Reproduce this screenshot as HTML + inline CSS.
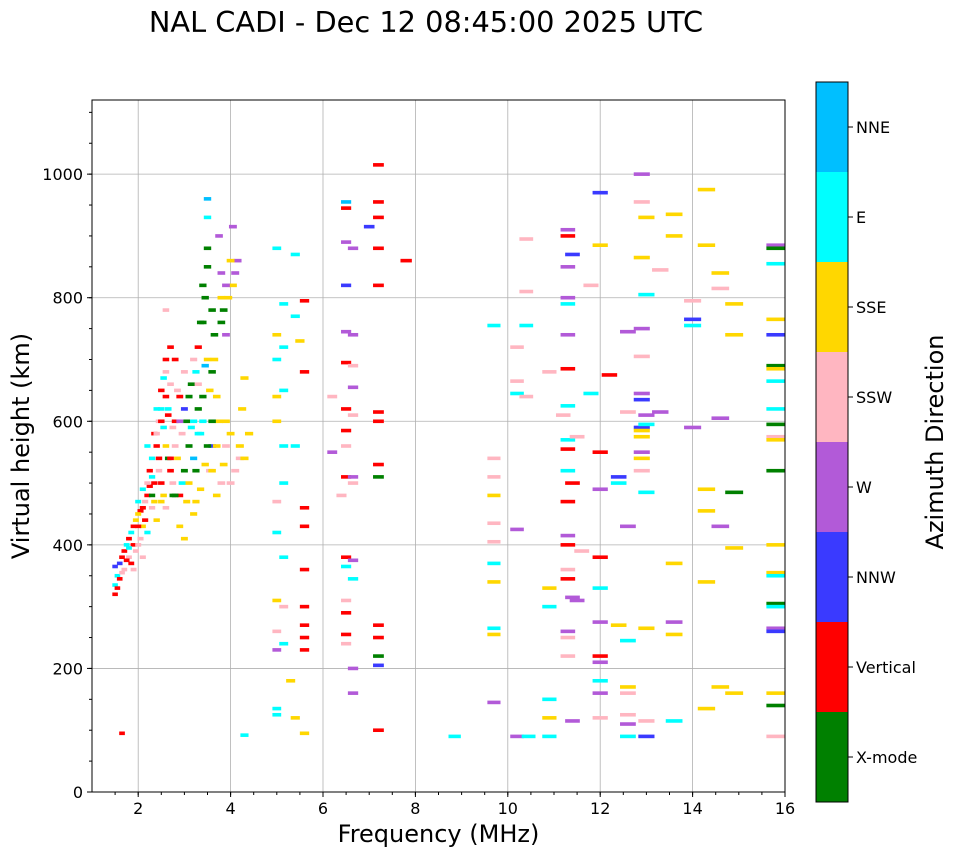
<!DOCTYPE html>
<html><head><meta charset="utf-8"><style>
body{margin:0;background:#fff;font-family:"DejaVu Sans","Liberation Sans",sans-serif}
svg{display:block}
</style></head><body>
<svg id="c" width="958" height="857" xmlns="http://www.w3.org/2000/svg" font-family="DejaVu Sans, Liberation Sans, sans-serif"></svg>
<script>
// [frequency MHz, virtual height km, direction index]
const points=[
[1.5,320,1],[1.5,335,6],[1.55,350,6],[1.5,365,2],[1.6,370,2],[1.6,345,1],[1.65,380,1],[1.7,390,1],[1.7,360,4],[1.75,400,6],[1.8,380,4],[1.8,410,1],[1.85,420,6],[1.85,370,1],[1.9,400,1],[1.9,360,4],[1.95,440,5],[1.95,390,4],
[1.55,330,1],[1.65,355,4],[1.75,375,1],[1.8,395,6],[1.9,430,1],[2.0,400,4],[2.05,455,1],[2.1,430,5],[2.15,470,4],[2.25,495,1],[2.3,510,6],[2.35,470,5],[2.45,540,1],[2.55,590,6],[2.6,640,1],[2.7,660,4],[2.8,700,1],[2.85,540,5],[2.95,580,4],[3.05,600,0],[3.15,660,0],[3.25,680,6],[3.35,760,0],[3.45,800,0],[3.55,650,5],[3.65,700,5],[3.75,600,5],[3.85,780,0],[3.95,800,5],[4.05,820,5],[4.15,860,3],[4.2,540,4],[3.45,530,5],[3.25,470,5],[2.9,480,1],[2.75,500,4],[2.55,480,5],[2.45,600,4],[2.65,620,6],[3.35,580,6],[3.6,560,2],[3.9,600,5],
[2.0,430,1],[2.0,450,5],[2.0,470,6],[2.05,410,4],[2.1,460,1],[2.1,490,6],[2.1,380,4],[2.15,440,1],[2.2,480,1],[2.2,500,4],[2.2,420,6],[2.2,560,6],[2.25,520,1],[2.3,540,6],[2.3,480,0],[2.3,460,4],[2.35,580,1],[2.35,500,1],
[2.4,560,1],[2.4,580,4],[2.4,440,5],[2.4,620,6],[2.45,520,4],[2.5,600,1],[2.5,620,6],[2.5,650,1],[2.5,500,1],[2.5,470,5],[2.55,670,6],[2.6,680,4],[2.6,700,1],[2.6,560,5],[2.6,460,4],[2.6,780,4],[2.65,610,1],[2.65,540,0],
[2.7,520,1],[2.7,540,1],[2.7,720,1],[2.75,480,0],[2.75,590,4],[2.8,480,0],[2.8,560,4],[2.8,600,1],[2.85,650,4],[2.9,600,3],[2.9,640,1],[2.9,430,5],[2.95,500,6],[3.0,680,4],[3.0,520,0],[3.0,410,5],[3.0,620,2],[3.05,470,5],
[3.1,560,0],[3.1,500,5],[3.1,640,0],[3.15,590,6],[3.2,540,7],[3.2,600,6],[3.2,700,4],[3.2,450,5],[3.25,520,0],[3.3,620,0],[3.3,660,4],[3.3,720,1],[3.3,580,6],[3.35,490,5],[3.4,760,0],[3.4,820,0],[3.4,640,0],[3.4,600,6],[3.45,690,7],
[3.5,850,0],[3.5,700,5],[3.5,560,0],[3.5,960,7],[3.5,930,6],[3.5,880,0],[3.55,520,4],[3.6,520,5],[3.6,600,0],[3.6,680,0],[3.6,780,0],[3.65,740,0],[3.7,640,5],[3.7,480,5],[3.7,560,5],[3.75,900,3],
[3.8,800,5],[3.8,500,4],[3.8,760,0],[3.8,840,3],[3.85,530,5],[3.9,560,4],[3.9,820,3],[3.9,740,3],[4.0,860,5],[4.0,580,5],[4.0,500,4],[4.05,915,3],[4.1,840,3],[4.1,520,4],[4.2,560,5],[4.25,620,5],[4.3,540,5],[4.4,580,5],[4.3,670,5],
[1.65,95,1],[4.3,92,6],
[5.0,880,6],[5.0,740,5],[5.0,700,6],[5.0,640,5],[5.0,600,5],[5.0,470,4],[5.0,420,6],[5.0,310,5],[5.0,260,4],[5.0,230,3],[5.0,135,6],[5.0,125,6],[5.15,790,6],[5.15,720,6],[5.15,650,6],[5.15,560,6],[5.15,500,6],[5.15,380,6],[5.15,300,4],[5.15,240,6],[5.4,870,6],[5.4,770,6],[5.4,560,6],[5.4,120,5],[5.5,730,5],[5.6,795,1],[5.6,680,1],[5.6,460,1],[5.6,430,1],[5.6,360,1],[5.6,300,1],[5.6,270,1],[5.6,250,1],[5.6,230,1],[5.6,95,5],[5.3,180,5],
[6.2,640,4],[6.2,550,3],[6.5,955,7],[6.5,945,1],[6.5,890,3],[6.5,820,2],[6.5,745,3],[6.5,695,1],[6.5,620,1],[6.5,585,1],[6.5,560,4],[6.5,510,1],[6.5,380,1],[6.5,365,6],[6.5,310,4],[6.5,290,1],[6.5,255,1],[6.5,240,4],[6.65,880,3],[6.65,740,3],[6.65,690,4],[6.65,655,3],[6.65,610,4],[6.65,510,3],[6.65,500,4],[6.65,375,3],[6.65,345,6],[6.65,200,3],[6.65,160,3],[6.4,480,4],[7.0,915,2],[7.2,1015,1],[7.2,955,1],[7.2,930,1],[7.2,880,1],[7.2,820,1],[7.2,615,1],[7.2,600,1],[7.2,530,1],[7.2,510,0],[7.2,270,1],[7.2,250,1],[7.2,220,0],[7.2,205,2],[7.2,100,1],[7.8,860,1],
[8.85,90,6],[9.7,755,6],[9.7,540,4],[9.7,510,4],[9.7,480,5],[9.7,435,4],[9.7,405,4],[9.7,370,6],[9.7,340,5],[9.7,265,6],[9.7,255,5],[9.7,145,3],[10.2,720,4],[10.2,665,4],[10.2,645,6],[10.2,425,3],[10.2,90,3],[10.4,895,4],[10.4,810,4],[10.4,755,6],[10.4,640,4],[10.45,90,6],[10.9,680,4],[10.9,330,5],[10.9,300,6],[10.9,150,6],[10.9,120,5],[10.9,90,6],
[11.3,910,3],[11.3,900,1],[11.3,850,3],[11.3,800,3],[11.3,790,6],[11.3,740,3],[11.3,685,1],[11.3,625,6],[11.3,570,6],[11.3,555,1],[11.3,520,6],[11.3,470,1],[11.3,415,3],[11.3,400,1],[11.3,360,4],[11.3,345,1],[11.3,250,4],[11.3,220,4],[11.3,260,3],[11.4,870,2],[11.4,500,1],[11.4,315,3],[11.5,310,3],[11.5,575,4],[11.2,610,4],[11.4,115,3],[11.6,390,4],[11.8,820,4],[11.8,645,6],
[12.0,970,2],[12.0,885,5],[12.0,550,1],[12.0,490,3],[12.0,380,1],[12.0,330,6],[12.0,275,3],[12.0,220,1],[12.0,210,3],[12.0,180,6],[12.0,160,3],[12.0,120,4],[12.2,675,1],[12.4,510,2],[12.4,500,6],[12.4,270,5],[12.6,745,3],[12.6,615,4],[12.6,430,3],[12.6,245,6],[12.6,170,5],[12.6,160,4],[12.6,125,4],[12.6,110,3],[12.6,90,6],
[12.9,1000,3],[12.9,955,4],[12.9,865,5],[12.9,750,3],[12.9,705,4],[12.9,645,3],[12.9,635,2],[12.9,590,2],[12.9,585,5],[12.9,575,5],[12.9,550,3],[12.9,540,5],[12.9,520,4],[13.0,805,6],[13.0,930,5],[13.0,610,3],[13.0,595,6],[13.0,485,6],[13.0,265,5],[13.0,115,4],[13.0,90,2],[13.3,845,4],[13.3,615,3],[13.6,935,5],[13.6,900,5],[13.6,370,5],[13.6,275,3],[13.6,255,5],[13.6,115,6],
[14.0,795,4],[14.0,765,2],[14.0,755,6],[14.0,590,3],[14.3,975,5],[14.3,885,5],[14.3,490,5],[14.3,455,5],[14.3,340,5],[14.3,135,5],[14.6,840,5],[14.6,815,4],[14.6,605,3],[14.6,430,3],[14.6,170,5],[14.9,790,5],[14.9,740,5],[14.9,485,0],[14.9,395,5],[14.9,160,5],
[15.8,885,3],[15.8,880,0],[15.8,855,6],[15.8,765,5],[15.8,740,2],[15.8,690,0],[15.8,685,5],[15.8,665,6],[15.8,620,6],[15.8,595,0],[15.8,575,4],[15.8,570,5],[15.8,520,0],[15.8,400,5],[15.8,355,5],[15.8,350,6],[15.8,305,0],[15.8,300,6],[15.8,265,3],[15.8,260,2],[15.8,160,5],[15.8,140,0],[15.8,90,4]
];
const xTicks=[2,4,6,8,10,12,14,16];
const yTicks=[0,200,400,600,800,1000];
const dirLabels=["X-mode","Vertical","NNW","W","SSW","SSE","E","NNE"];
const dirColors=["#008000","#ff0000","#3a3aff","#b25ad8","#ffb6c1","#ffd700","#00ffff","#00bfff"];

const NS="http://www.w3.org/2000/svg";
const svg=document.getElementById('c');
const L=92,R=785,T=100,B=792,x0=1,x1=16,y0=0,y1=1120;
const X=v=>L+(v-x0)/(x1-x0)*(R-L);
const Y=v=>B-(v-y0)/(y1-y0)*(B-T);
function mk(tag,attrs,parent){const e=document.createElementNS(NS,tag);for(const k in attrs)e.setAttribute(k,attrs[k]);(parent||svg).appendChild(e);return e;}

const title=mk('text',{x:426,y:32,'text-anchor':'middle','font-size':28.8});
title.textContent='NAL CADI - Dec 12 08:45:00 2025 UTC';



const grid=mk('g',{stroke:'#b0b0b0','stroke-width':0.8});


xTicks.forEach(t=>{if(t<x1)mk('line',{x1:X(t),x2:X(t),y1:T,y2:B},grid);});
yTicks.forEach(t=>{if(t>y0)mk('line',{x1:L,x2:R,y1:Y(t),y2:Y(t)},grid);});

const marks=mk('g',{});


points.forEach(p=>{
  const f=p[0],h=p[1],d=p[2];
  const w=0.09+0.02*f;
  const r=mk('rect',{x:X(f-w/2),y:Y(h)-1.8,width:X(f+w/2)-X(f-w/2),height:3.6,fill:dirColors[d]},marks);
  
  
});

const frame=mk('rect',{x:L,y:T,width:R-L,height:B-T,fill:'none',stroke:'#000','stroke-width':1});



const ax=mk('g',{'font-size':16});


xTicks.forEach(t=>{
  mk('line',{x1:X(t),x2:X(t),y1:B,y2:B+5,stroke:'#000'},ax);
  const tx=mk('text',{x:X(t),y:B+22,'text-anchor':'middle'},ax);tx.textContent=t;
  
  
});
for(let m=1.5;m<x1;m+=0.5){mk('line',{x1:X(m),x2:X(m),y1:B,y2:B+3,stroke:'#000'},ax);}
yTicks.forEach(t=>{
  mk('line',{x1:L-5,x2:L,y1:Y(t),y2:Y(t),stroke:'#000'},ax);
  const tx=mk('text',{x:L-9,y:Y(t)+6,'text-anchor':'end'},ax);tx.textContent=t;
  
  
});
for(let m=50;m<y1;m+=50){mk('line',{x1:L-3,x2:L,y1:Y(m),y2:Y(m),stroke:'#000'},ax);}
const xl=mk('text',{x:(L+R)/2,y:842,'text-anchor':'middle','font-size':24});xl.textContent='Frequency (MHz)';


const yl=mk('text',{x:0,y:0,'text-anchor':'middle','font-size':24,transform:`translate(29,${(T+B)/2}) rotate(-90)`});yl.textContent='Virtual height (km)';



const cb=mk('g',{});


const cT=82,cB=802,cL=816,cR=848,n=dirLabels.length,bh=(cB-cT)/n;
dirLabels.forEach((lab,i)=>{
  const yy=cB-(i+1)*bh;
  const r=mk('rect',{x:cL,y:yy,width:cR-cL,height:bh,fill:dirColors[i]},cb);
  
  
  mk('line',{x1:cR,x2:cR+5,y1:yy+bh/2,y2:yy+bh/2,stroke:'#000'},cb);
  const t=mk('text',{x:cR+8,y:yy+bh/2+6,'font-size':16},cb);t.textContent=lab;
  
  
});
mk('rect',{x:cL,y:cT,width:cR-cL,height:cB-cT,fill:'none',stroke:'#000'},cb);
const cl=mk('text',{x:0,y:0,'text-anchor':'middle','font-size':24,transform:`translate(943,${(cT+cB)/2}) rotate(-90)`},cb);cl.textContent='Azimuth Direction';


</script>
</body></html>
